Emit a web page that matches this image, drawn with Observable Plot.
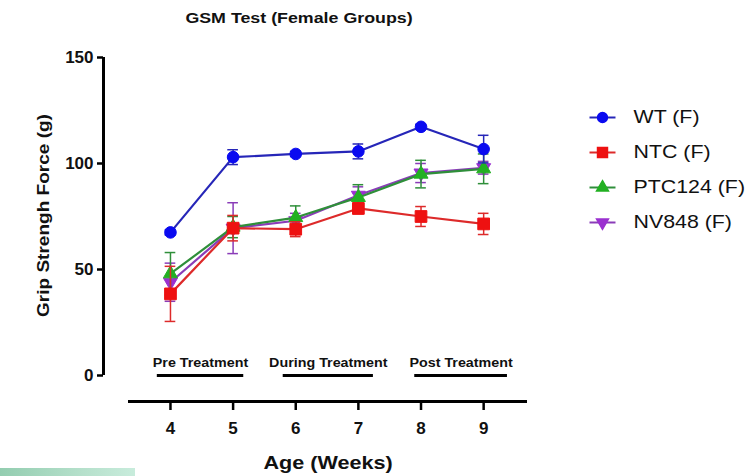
<!DOCTYPE html>
<html>
<head>
<meta charset="utf-8">
<script src="https://cdn.jsdelivr.net/npm/d3@7"></script>
<script src="https://cdn.jsdelivr.net/npm/@observablehq/plot@0.6"></script>
<style>
  html, body { margin: 0; padding: 0; background: #fff; }
  #wrap { position: relative; width: 755px; height: 476px; overflow: hidden; font-family: "Liberation Sans", Arial, sans-serif; }
  #strip { position: absolute; left: 0; top: 468px; width: 135px; height: 8px;
           background: linear-gradient(90deg, #93cdb0, #b5e0cb 60%, #c8ecdc); }
</style>
</head>
<body>
<div id="wrap"><div id="strip"></div></div>
<script>
// ---- data ----
const weeks = [4, 5, 6, 7, 8, 9];
const seriesNames = ["WT (F)", "NTC (F)", "PTC124 (F)", "NV848 (F)"];
const wt     = [67.5, 103.0, 104.5, 105.7, 117.3, 106.8];
const wtErr  = [1.2, 3.5, 1.2, 3.5, 1.2, 6.5];
const ntc    = [38.5, 69.5, 69.0, 78.8, 75.0, 71.5];
const ntcErr = [13.0, 6.0, 3.5, 2.5, 4.7, 5.0];
const ptc    = [48.0, 70.0, 74.5, 84.0, 95.0, 97.5];
const ptcErr = [10.0, 5.0, 5.5, 6.0, 6.5, 7.0];
const nv     = [44.0, 69.5, 73.0, 85.0, 95.5, 98.0];
const nvErr  = [9.0, 12.0, 3.5, 4.0, 4.5, 3.0];
const yTicks = [0, 50, 100, 150];
const phases = ["Pre Treatment", "During Treatment", "Post Treatment"];
const phaseStart = [3.79, 5.80, 7.90];
const phaseEnd   = [5.17, 7.24, 9.38];
const chartTitle = "GSM Test (Female Groups)";
const yTitle = "Grip Strengh Force (g)";
const xTitle = "Age (Weeks)";

// ---- styles per series ----
const styles = {
  "WT (F)":     {fill: "#0a0af0", line: "#2626b8", symbol: "circle",   r: 5.8, rotate: 0},
  "NTC (F)":    {fill: "#ee1111", line: "#dd2a2a", symbol: "square",   r: 6.6, rotate: 0},
  "PTC124 (F)": {fill: "#22b022", line: "#2f8f3a", symbol: "triangle", r: 5.2, rotate: 0},
  "NV848 (F)":  {fill: "#9b30d0", line: "#8a3cb8", symbol: "triangle", r: 5.2, rotate: 180}
};
const values = {"WT (F)": wt, "NTC (F)": ntc, "PTC124 (F)": ptc, "NV848 (F)": nv};
const errs = {"WT (F)": wtErr, "NTC (F)": ntcErr, "PTC124 (F)": ptcErr, "NV848 (F)": nvErr};

function rows(name) {
  return weeks.map((w, i) => ({week: w, value: values[name][i], err: errs[name][i], name}));
}
const phaseRows = phases.map((p, i) => ({label: p, x1: phaseStart[i], x2: phaseEnd[i]}));

const xDomain = [3.33, 9.7];
const font = "Liberation Sans, Arial, sans-serif";
const capHalf = 0.085;

// a short horizontal line used as legend glyph
const legendLine = {draw(ctx) { ctx.moveTo(-13, 0); ctx.lineTo(13, 0); }};

const drawOrder = ["NV848 (F)", "PTC124 (F)", "NTC (F)", "WT (F)"];
const dataMarks = [];
for (const name of drawOrder) {
  const d = rows(name);
  const s = styles[name];
  dataMarks.push(
    Plot.ruleX(d, {x: "week", y1: r => r.value - r.err, y2: r => r.value + r.err, stroke: s.line, strokeWidth: 1.5}),
    Plot.ruleY(d, {y: r => r.value + r.err, x1: r => r.week - capHalf, x2: r => r.week + capHalf, stroke: s.line, strokeWidth: 1.5}),
    Plot.ruleY(d, {y: r => r.value - r.err, x1: r => r.week - capHalf, x2: r => r.week + capHalf, stroke: s.line, strokeWidth: 1.5}),
    Plot.line(d, {x: "week", y: "value", stroke: s.line, strokeWidth: 2.2}),
    Plot.dot(d, {x: "week", y: "value", symbol: s.symbol, r: s.r, rotate: s.rotate, fill: s.fill, stroke: s.fill, strokeWidth: 1})
  );
}

const legendMarks = [];
seriesNames.forEach((name, i) => {
  const s = styles[name];
  const dy = 60 + i * 35;
  legendMarks.push(
    Plot.dot([name], {frameAnchor: "top-right", dx: 75, dy: dy, symbol: legendLine, fill: "none", stroke: s.line, strokeWidth: 2}),
    Plot.dot([name], {frameAnchor: "top-right", dx: 75, dy: dy, symbol: s.symbol, r: s.r * 0.85, rotate: s.rotate, fill: s.fill, stroke: s.fill}),
    Plot.text([name], {frameAnchor: "top-right", dx: 106, dy: dy, text: d => d, textAnchor: "start", lineAnchor: "middle", fontSize: 17.5, fill: "#111"})
  );
});

const chart = Plot.plot({
  width: 755,
  height: 476,
  marginLeft: 128,
  marginRight: 228,
  marginTop: 57,
  marginBottom: 101,
  style: {fontFamily: font, background: "transparent", overflow: "visible"},
  x: {domain: xDomain},
  y: {domain: [0, 150]},
  marks: [
    // axis lines (offset, GraphPad style)
    Plot.ruleX([xDomain[0]], {y1: 0, y2: 150, dx: -25, stroke: "#000", strokeWidth: 3}),
    Plot.ruleY([0], {x1: xDomain[0], x2: xDomain[1], dy: 26, stroke: "#000", strokeWidth: 3}),
    Plot.axisY({ticks: yTicks, dx: -25, tickSize: 6, tickPadding: 4, label: null, fontSize: 17, fontWeight: "bold", strokeWidth: 2.5, fill: "#111", tickFormat: d => String(d)}),
    Plot.axisX({ticks: weeks, dy: 26, tickSize: 9, tickPadding: 11, label: null, fontSize: 17, fontWeight: "bold", strokeWidth: 2.5, fill: "#111", tickFormat: d => String(d)}),
    // phase annotations
    Plot.ruleY(phaseRows, {y: 0, x1: "x1", x2: "x2", stroke: "#000", strokeWidth: 3}),
    Plot.text(phaseRows, {x: d => (d.x1 + d.x2) / 2, y: 0, dy: -13, lineAnchor: "middle", text: "label", fontSize: 13, fontWeight: "bold", fill: "#111"}),
    // data
    ...dataMarks,
    // titles
    Plot.text([chartTitle], {frameAnchor: "top", dx: -29, dy: -39, lineAnchor: "middle", fontSize: 15.5, fontWeight: "bold", fill: "#111"}),
    Plot.text([yTitle], {frameAnchor: "left", dx: -85, dy: -1, rotate: -90, textAnchor: "middle", lineAnchor: "middle", fontSize: 17, fontWeight: "bold", fill: "#111"}),
    Plot.text([xTitle], {frameAnchor: "bottom", dx: 0, dy: 88, lineAnchor: "middle", fontSize: 18, fontWeight: "bold", fill: "#111"}),
    // legend
    ...legendMarks
  ]
});
document.getElementById("wrap").appendChild(chart);

// widen text horizontally to match the reference's stretched lettering
const stretchBy = new Map([
  [chartTitle, 1.15], [yTitle, 1.12], [xTitle, 1.2],
  ...phases.map(p => [p, 1.1]),
  ...seriesNames.map(n => [n, 1.22])
]);
chart.querySelectorAll("text").forEach(t => {
  const sx = stretchBy.get(t.textContent.trim());
  if (!sx) return;
  const b = t.getBBox();
  const anchor = t.closest("[text-anchor]") ? t.closest("[text-anchor]").getAttribute("text-anchor") : "start";
  const ax = anchor === "middle" ? b.x + b.width / 2 : anchor === "end" ? b.x + b.width : b.x;
  const prev = t.getAttribute("transform") || "";
  t.setAttribute("transform", `${prev} translate(${ax},0) scale(${sx},1) translate(${-ax},0)`);
});
</script>
</body>
</html>
